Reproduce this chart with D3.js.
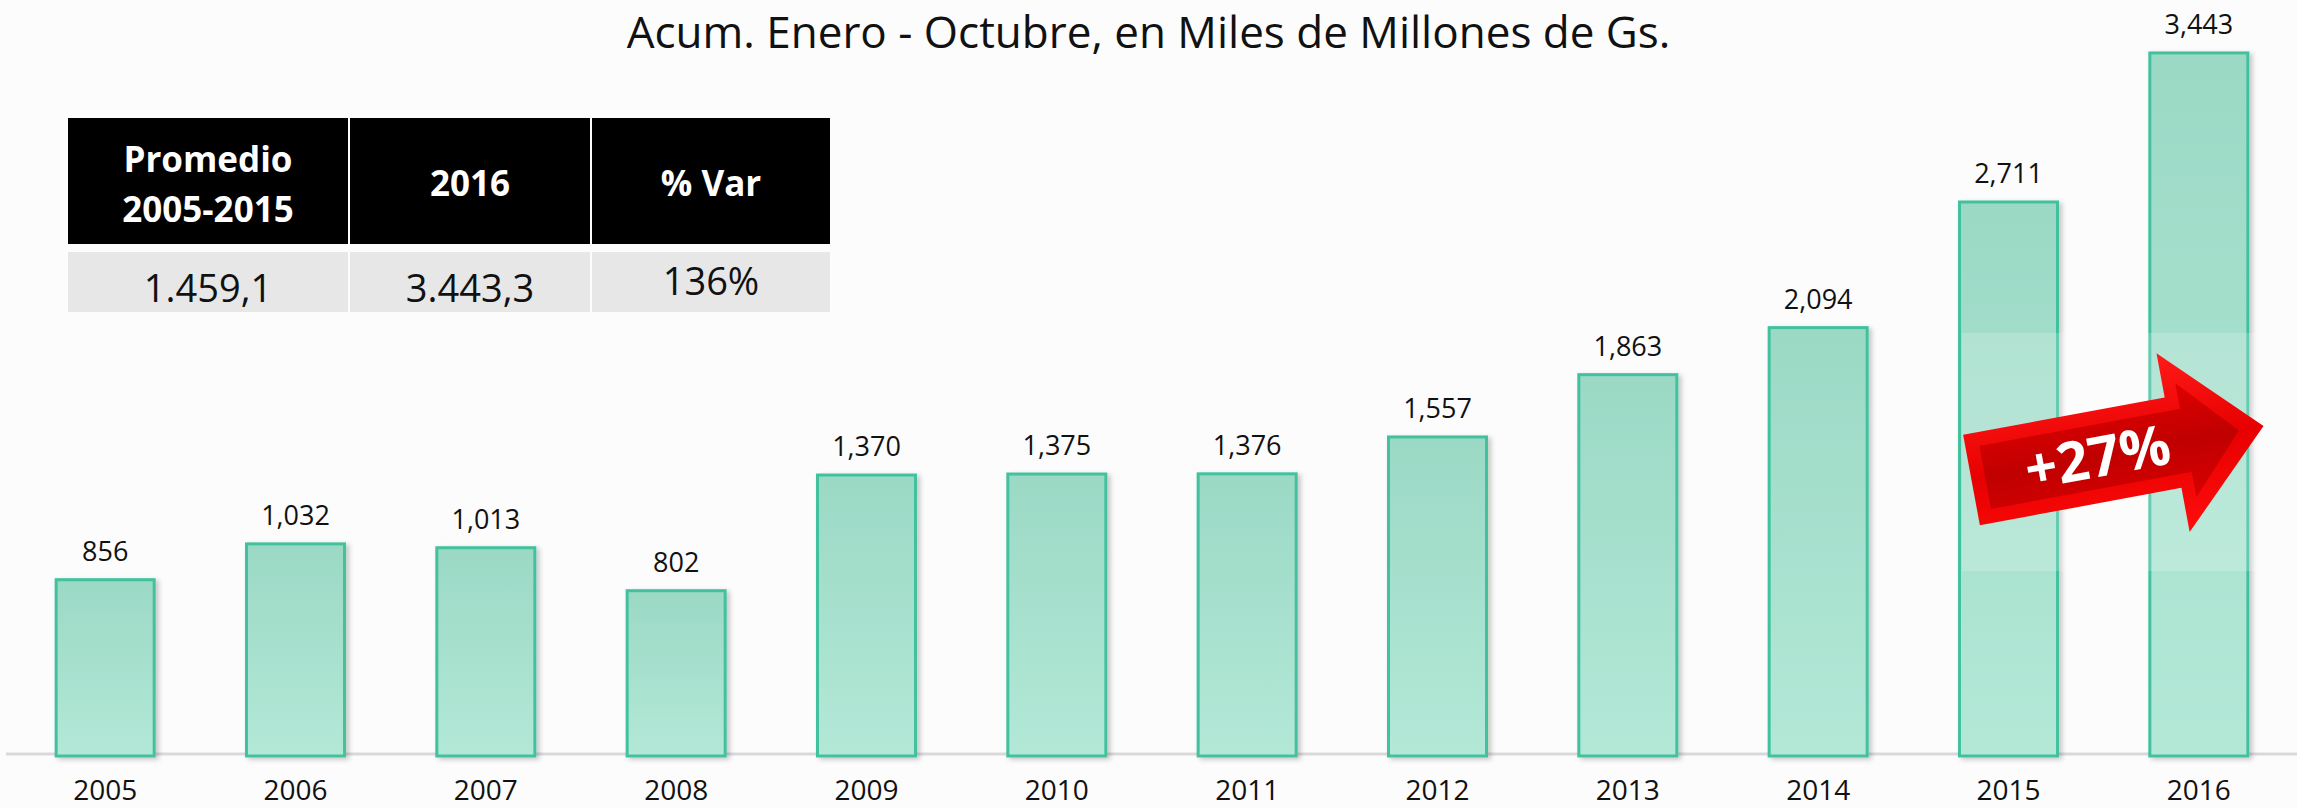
<!DOCTYPE html>
<html>
<head>
<meta charset="utf-8">
<script src="https://cdn.jsdelivr.net/npm/d3@7"></script>
<style>
  body { margin: 0; background: #fcfcfc; }
  svg { display: block; }
</style>
</head>
<body>
<svg id="chart" width="2297" height="808"></svg>
<script>
const years = ['2005', '2006', '2007', '2008', '2009', '2010', '2011', '2012', '2013', '2014', '2015', '2016'];
const values = [856, 1032, 1013, 802, 1370, 1375, 1376, 1557, 1863, 2094, 2711, 3443];
const title = 'Acum. Enero - Octubre, en Miles de Millones de Gs.';
const tableHeaders = [['Promedio', '2005-2015'], ['2016'], ['% Var']];
const tableValues = ['1.459,1', '3.443,3', '136%'];
const growthLabel = '+27%';

const width = 2297;
const height = 808;
const baseline = 754;
const font = "'Open Sans', 'DejaVu Sans', sans-serif";

const svg = d3.select('#chart');
const defs = svg.append('defs');

// bar fill
const barGrad = defs.append('linearGradient')
  .attr('id', 'barGrad')
  .attr('x1', 0).attr('y1', 0).attr('x2', 0).attr('y2', 1);
barGrad.append('stop').attr('offset', '0%').attr('stop-color', '#9bd9c5');
barGrad.append('stop').attr('offset', '100%').attr('stop-color', '#b3e8d7');

defs.append('filter')
  .attr('id', 'shadow')
  .attr('x', '-10%').attr('y', '-10%').attr('width', '130%').attr('height', '130%')
  .append('feDropShadow')
  .attr('dx', 3).attr('dy', 2).attr('stdDeviation', 2.5)
  .attr('flood-color', '#000').attr('flood-opacity', 0.22);

// arrow shading
const arrowOuter = defs.append('linearGradient')
  .attr('id', 'arrowOuter')
  .attr('x1', 0).attr('y1', 0).attr('x2', 0).attr('y2', 1);
arrowOuter.append('stop').attr('offset', '0%').attr('stop-color', '#ff1a1a');
arrowOuter.append('stop').attr('offset', '50%').attr('stop-color', '#e80000');
arrowOuter.append('stop').attr('offset', '100%').attr('stop-color', '#ff0d0d');

const arrowInner = defs.append('linearGradient')
  .attr('id', 'arrowInner')
  .attr('x1', 0).attr('y1', 0).attr('x2', 0).attr('y2', 1);
arrowInner.append('stop').attr('offset', '0%').attr('stop-color', '#e00000');
arrowInner.append('stop').attr('offset', '50%').attr('stop-color', '#c00000');
arrowInner.append('stop').attr('offset', '100%').attr('stop-color', '#d80000');

// scales
const x = d3.scaleBand()
  .domain(years)
  .range([10, 2294])
  .paddingInner(0.485)
  .paddingOuter(0.2425);

const y = d3.scaleLinear()
  .domain([0, 3703])
  .range([baseline, 0]);

// title
svg.append('text')
  .attr('x', width / 2)
  .attr('y', 48)
  .attr('text-anchor', 'middle')
  .attr('font-family', font)
  .attr('font-size', 44)
  .attr('fill', '#111')
  .text(title);

// baseline
svg.append('line')
  .attr('x1', 6)
  .attr('x2', width)
  .attr('y1', baseline)
  .attr('y2', baseline)
  .attr('stroke', '#d9d9d9')
  .attr('stroke-width', 3);

// bars
svg.append('g')
  .selectAll('rect')
  .data(values)
  .join('rect')
  .attr('x', (d, i) => x(years[i]))
  .attr('y', (d) => y(d))
  .attr('width', x.bandwidth())
  .attr('height', (d) => baseline - y(d) + 2)
  .attr('fill', 'url(#barGrad)')
  .attr('stroke', '#43c19f')
  .attr('stroke-width', 3)
  .attr('filter', 'url(#shadow)');

// value labels
svg.append('g')
  .selectAll('text')
  .data(values)
  .join('text')
  .attr('x', (d, i) => x(years[i]) + x.bandwidth() / 2)
  .attr('y', (d) => y(d) - 19)
  .attr('text-anchor', 'middle')
  .attr('font-family', font)
  .attr('font-size', 27)
  .attr('fill', '#111')
  .text((d) => d3.format(',')(d));

// year axis
const xAxis = svg.append('g')
  .attr('transform', `translate(0,${baseline})`)
  .call(d3.axisBottom(x).tickSize(0).tickPadding(26));
xAxis.select('.domain').remove();
xAxis.selectAll('text')
  .attr('font-family', font)
  .attr('font-size', 28)
  .attr('fill', '#111');

// summary table
const cols = [
  { x0: 68, x1: 348 },
  { x0: 350, x1: 590 },
  { x0: 592, x1: 830 },
];
const table = svg.append('g');

table.selectAll('rect.head')
  .data(cols)
  .join('rect')
  .attr('class', 'head')
  .attr('x', (d) => d.x0)
  .attr('y', 118)
  .attr('width', (d) => d.x1 - d.x0)
  .attr('height', 126)
  .attr('fill', '#000');

table.selectAll('rect.cell')
  .data(cols)
  .join('rect')
  .attr('class', 'cell')
  .attr('x', (d) => d.x0)
  .attr('y', 252)
  .attr('width', (d) => d.x1 - d.x0)
  .attr('height', 60)
  .attr('fill', '#e7e7e7');

tableHeaders.forEach((lines, i) => {
  const cx = (cols[i].x0 + cols[i].x1) / 2;
  const t = table.append('text')
    .attr('x', cx)
    .attr('text-anchor', 'middle')
    .attr('font-family', font)
    .attr('font-weight', 'bold')
    .attr('font-size', 35)
    .attr('fill', '#fff');
  if (lines.length === 1) {
    t.attr('y', 196).text(lines[0]);
  } else {
    lines.forEach((line, j) => {
      t.append('tspan')
        .attr('x', cx)
        .attr('y', 172 + j * 50)
        .text(line);
    });
  }
});

tableValues.forEach((v, i) => {
  table.append('text')
    .attr('x', (cols[i].x0 + cols[i].x1) / 2)
    .attr('y', i === 2 ? 295 : 302)
    .attr('text-anchor', 'middle')
    .attr('font-family', font)
    .attr('font-size', 38)
    .attr('fill', '#111')
    .text(v);
});

// faint white veil behind the arrow
svg.append('rect')
  .attr('x', 1962)
  .attr('y', 333)
  .attr('width', 301)
  .attr('height', 238)
  .attr('fill', '#fff')
  .attr('opacity', 0.18);

// growth arrow between 2015 and 2016
const arrow = svg.append('g')
  .attr('transform', 'translate(1971.5,480) rotate(-10.5)');

arrow.append('path')
  .attr('d', 'M0,-46 L205,-46 L205,-91 L297,0 L205,91 L205,46 L0,46 Z')
  .attr('fill', 'url(#arrowOuter)');

arrow.append('path')
  .attr('d', 'M14,-32 L218,-32 L218,-58 L272,0 L218,58 L218,32 L14,32 Z')
  .attr('fill', 'url(#arrowInner)');

arrow.append('text')
  .attr('x', 128)
  .attr('y', 0)
  .attr('dy', '0.36em')
  .attr('text-anchor', 'middle')
  .attr('font-family', font)
  .attr('font-weight', 'bold')
  .attr('font-size', 56)
  .attr('fill', '#fff')
  .text(growthLabel);
</script>
</body>
</html>
